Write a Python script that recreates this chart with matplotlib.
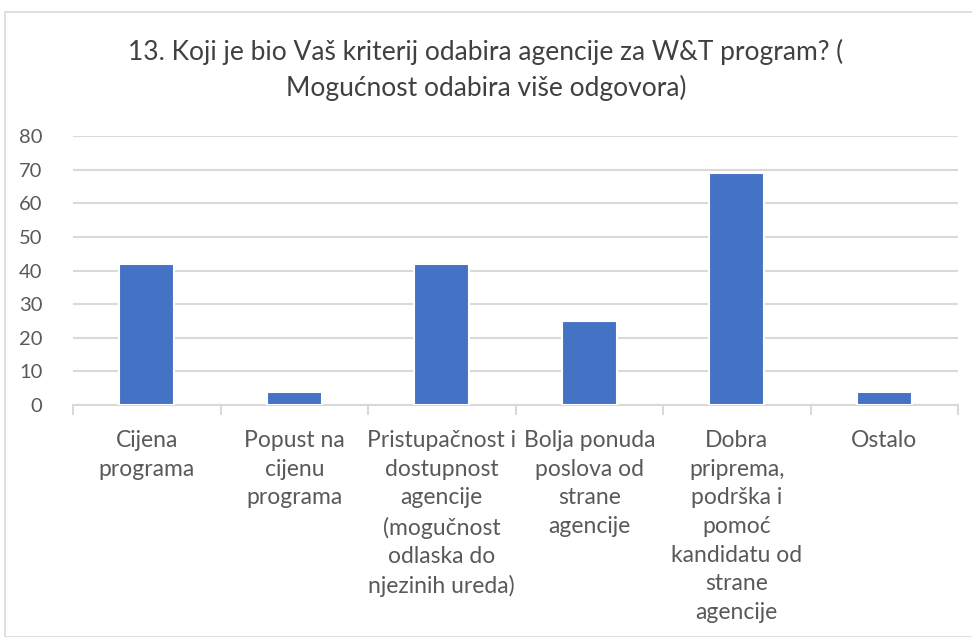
import numpy as np
import matplotlib.pyplot as plt
from matplotlib.patches import Rectangle

categories = [
    "Cijena\nprograma",
    "Popust na\ncijenu\nprograma",
    "Pristupačnost i\ndostupnost\nagencije\n(mogučnost\nodlaska do\nnjezinih ureda)",
    "Bolja ponuda\nposlova od\nstrane\nagencije",
    "Dobra\npriprema,\npodrška i\npomoć\nkandidatu od\nstrane\nagencije",
    "Ostalo",
]
counts = [42, 4, 42, 25, 69, 4]
yticks = [0, 10, 20, 30, 40, 50, 60, 70, 80]

title = "13. Koji je bio Vaš kriterij odabira agencije za W&T program? (\nMogućnost odabira više odgovora)"

plt.rcParams['font.family'] = ['Lato', 'DejaVu Sans']

fig = plt.figure(figsize=(9.72, 6.37), dpi=100)
ax = fig.add_axes([73 / 972, 1 - 405 / 637, 885 / 972, 269 / 637])

# outer chart border
fig.patches.append(Rectangle((5 / 972, 0), 1, 1 - 12 / 637, transform=fig.transFigure,
                             fill=False, edgecolor='#d9d9d9', linewidth=1.2))

x = np.arange(len(categories))
ax.bar(x, counts, width=0.37, color='#4472c4', edgecolor='white', linewidth=1.5, zorder=3)

ax.set_xlim(-0.5, len(categories) - 0.5)
ax.set_ylim(0, 80)
ax.set_yticks(yticks)
ax.set_yticklabels([str(v) for v in yticks], fontsize=14.5, color='#595959')
ax.yaxis.grid(True, color='#d9d9d9', linewidth=1.5, zorder=0)
ax.tick_params(axis='y', length=0, pad=22)

ax.set_xticks(x)
ax.set_xticklabels(categories, fontsize=16.5, color='#595959', linespacing=1.45, va='top')
ax.tick_params(axis='x', which='major', length=0, pad=18)
ax.set_xticks(np.arange(-0.5, len(categories)), minor=True)
ax.tick_params(axis='x', which='minor', length=7, color='#d9d9d9', width=1.5)

for side in ['top', 'right', 'left']:
    ax.spines[side].set_visible(False)
ax.spines['bottom'].set_color('#d9d9d9')
ax.spines['bottom'].set_linewidth(1.5)

fig.text(0.5, 1 - 70 / 637, title, ha='center', va='center', fontsize=19,
         color='#404040', linespacing=1.5)

fig.savefig('out.png', dpi=100)
